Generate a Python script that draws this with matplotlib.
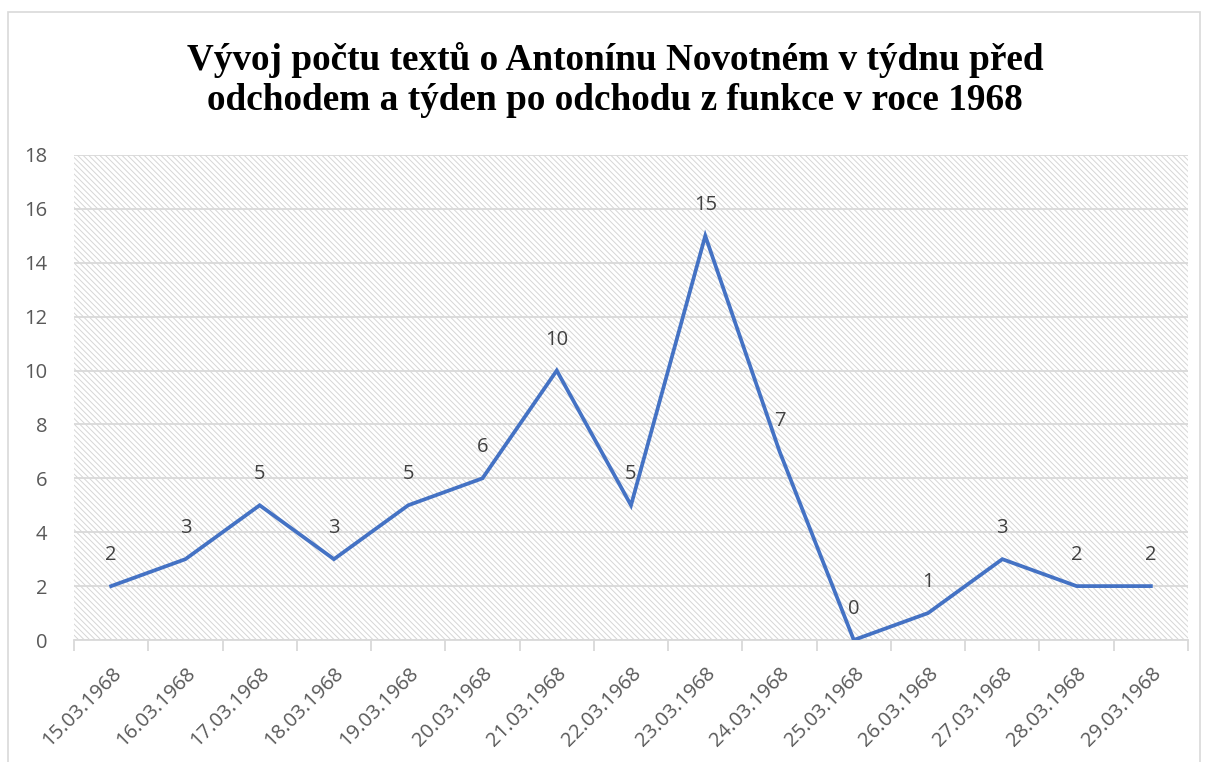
import matplotlib
matplotlib.use('Agg')
import matplotlib.pyplot as plt
import numpy as np
from matplotlib.patches import Rectangle

''' Data '''
dates = ['15.03.1968', '16.03.1968', '17.03.1968', '18.03.1968', '19.03.1968',
         '20.03.1968', '21.03.1968', '22.03.1968', '23.03.1968', '24.03.1968',
         '25.03.1968', '26.03.1968', '27.03.1968', '28.03.1968', '29.03.1968']
counts = [2, 3, 5, 3, 5, 6, 10, 5, 15, 7, 0, 1, 3, 2, 2]
title = 'Vývoj počtu textů o Antonínu Novotném v týdnu před\nodchodem a týden po odchodu z funkce v roce 1968'

''' Plot '''
plt.rcParams['hatch.linewidth'] = 0.7
fig = plt.figure(figsize=(12.05, 7.62), dpi=100)
ax = fig.add_axes([74/1205, 1-640/762, (1188-74)/1205, (640-155)/762])

# outer chart border
fig.patches.append(Rectangle((8/1205, -0.01), (1200-8)/1205, 1-12/762+0.01,
                             transform=fig.transFigure, fill=False,
                             edgecolor='#d9d9d9', linewidth=1.2))

# hatched plot area
ax.add_patch(Rectangle((0, 0), 1, 1, transform=ax.transAxes, facecolor='white',
                       edgecolor='#d6d6d6', hatch='\\\\\\\\\\\\', linewidth=0, zorder=0))

x = np.arange(len(dates))
ax.plot(x, counts, color='#4472C4', linewidth=2.7, zorder=3, solid_joinstyle='miter')

for i, v in zip(x, counts):
    ax.annotate(str(v), (i, v), xytext=(0, 15), textcoords='offset points',
                ha='center', va='bottom', fontsize=14.5, color='#404040',
                family='Open Sans')

# format
ax.set_xlim(-0.5, len(dates) - 0.5)
ax.set_ylim(0, 18)
ax.set_yticks(range(0, 19, 2))
ax.yaxis.grid(True, color='#d9d9d9', linewidth=1.3)
ax.set_axisbelow(True)
ax.set_xticks(x)
ax.set_xticklabels(dates, rotation=45, ha='right', va='top', rotation_mode='anchor',
                   fontsize=14.5, color='#595959', family='Open Sans')
ax.set_xticks(np.arange(-0.5, len(dates), 1), minor=True)
ax.tick_params(axis='x', which='major', length=0, pad=17)
ax.tick_params(axis='x', which='minor', length=8, color='#d9d9d9', width=1.3)
ax.tick_params(axis='y', length=0, labelsize=14.5, labelcolor='#595959', pad=19)
for lbl in ax.get_yticklabels():
    lbl.set_family('Open Sans')
for s in ['top', 'right', 'left']:
    ax.spines[s].set_visible(False)
ax.spines['bottom'].set_color('#d9d9d9')
ax.spines['bottom'].set_linewidth(1.3)

fig.text(615/1205, 1-80/762, title, ha='center', va='center', fontsize=26.8,
         fontweight='bold', family='Liberation Serif', linespacing=1.15)

plt.savefig('out.png', dpi=100)
